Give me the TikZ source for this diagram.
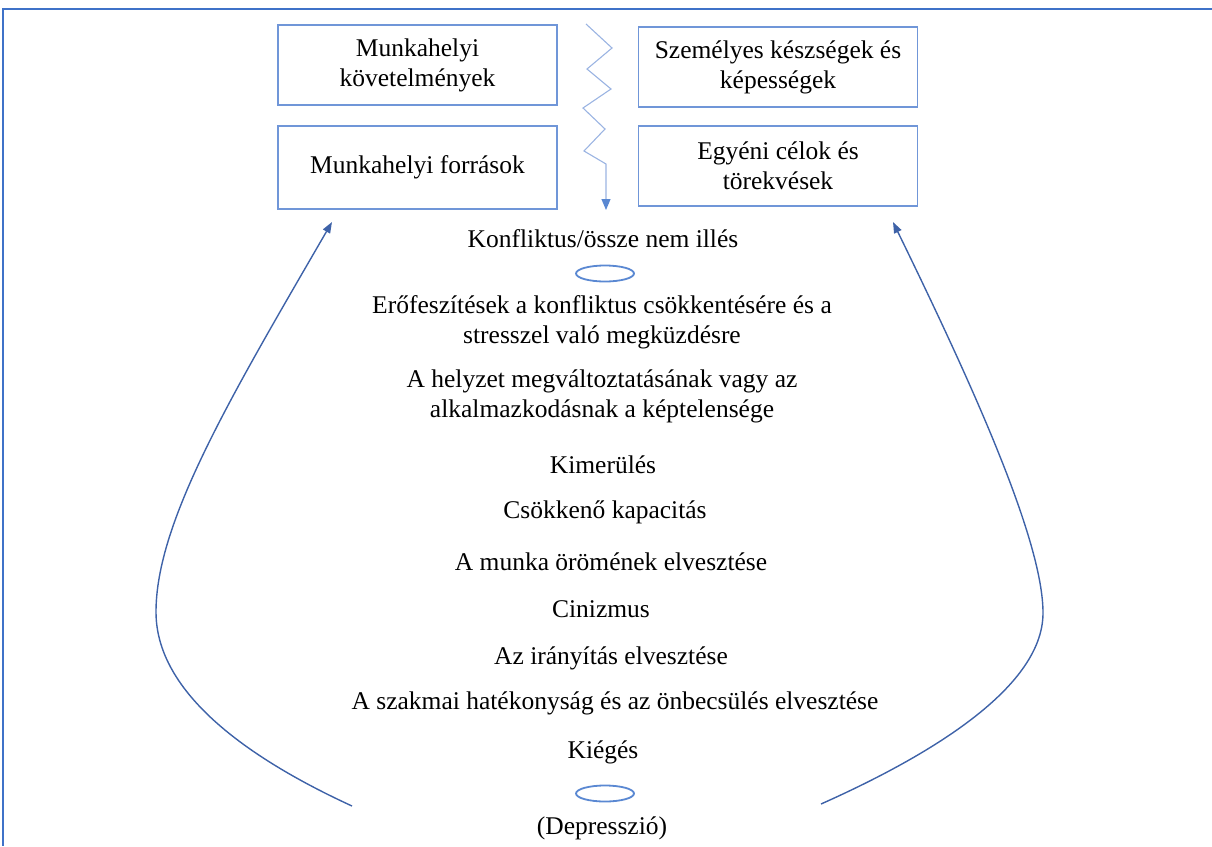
\documentclass[tikz,border=0pt]{standalone}
\usepackage{fontspec}
\setmainfont{Liberation Serif}
\usetikzlibrary{arrows.meta,shapes.geometric}

\definecolor{frameblue}{HTML}{3F72C8}
\definecolor{boxblue}{HTML}{7096D8}
\definecolor{zigblue}{HTML}{9BB4E2}
\definecolor{loopblue}{HTML}{3E62A8}
\definecolor{ellblue}{HTML}{5A88D2}

\begin{document}
\begin{tikzpicture}[x=1pt,y=-1pt,
  every node/.style={font=\fontsize{25.5}{30}\selectfont, inner sep=0pt},
  box/.style={draw=boxblue, line width=1.9pt, minimum width=279pt,
    minimum height=80pt, align=center},
  lbl/.style={align=center},
  ring/.style={draw=ellblue, line width=1.8pt, ellipse,
    minimum width=58pt, minimum height=16pt},
  zig/.style={draw=zigblue, line width=1.1pt,
    -{Triangle[length=11pt,width=9pt,color=ellblue]}},
  loop/.style={draw=loopblue, line width=1.4pt,
    -{Triangle[length=11pt,width=8pt]}},
  frame/.style={draw=frameblue}]

\useasboundingbox (0,0) rectangle (1212,846);

% page frame
\draw[frame, line width=2.4pt] (2,9) -- (1212,9);
\draw[frame, line width=1.1pt] (3,9) -- (3,846);

% the four boxes
\node[box] (req) at (417.5,65) {Munkahelyi\\követelmények};
\node[box] (skills) at (778,67) {Személyes készségek és\\képességek};
\node[box, minimum height=83pt] (res) at (417.5,167.5) {Munkahelyi források};
\node[box] (goals) at (778,166) {Egyéni célok és\\törekvések};

% zigzag between the two columns
\coordinate (zs) at (586,24);
\coordinate (ze) at (606,210);
\draw[zig] (zs) -- (612,48) -- (587,69) -- (611,89) -- (583,108)
  -- (605,129) -- (584,151) -- (606,164) -- (ze);

% central chain of stages
\node[lbl] (conf) at (603,239) {Konfliktus/össze nem illés};
\node[ring] (ring1) at (605,273.5) {};
\node[lbl] (effort) at (602,322) {Erőfeszítések a konfliktus csökkentésére és a\\stresszel való megküzdésre};
\node[lbl] (change) at (602,396) {A helyzet megváltoztatásának vagy az\\alkalmazkodásnak a képtelensége};
\node[lbl] (exh) at (603,465) {Kimerülés};
\node[lbl] (cap) at (605,512) {Csökkenő kapacitás};
\node[lbl] (joy) at (611,562) {A munka örömének elvesztése};
\node[lbl] (cyn) at (601,609) {Cinizmus};
\node[lbl] (ctrl) at (611,658) {Az irányítás elvesztése};
\node[lbl] (eff) at (615,703) {A szakmai hatékonyság és az önbecsülés elvesztése};
\node[lbl] (burn) at (603,752) {Kiégés};
\node[ring] (ring2) at (605,793.5) {};
\node[lbl] (dep) at (602,828) {(Depresszió)};

% feedback loops back to the boxes
\coordinate (lfoot) at (352,806);
\coordinate (ltip) at (332,222);
\coordinate (rfoot) at (821,804);
\coordinate (rtip) at (893,222);
\draw[loop] (lfoot) .. controls (265,766) and (156,700) .. (156,612)
  .. controls (156,522) and (230,398) .. (ltip);
\draw[loop] (rfoot) .. controls (922,759) and (1043,690) .. (1043,613)
  .. controls (1043,540) and (972,384) .. (rtip);

\end{tikzpicture}
\end{document}
